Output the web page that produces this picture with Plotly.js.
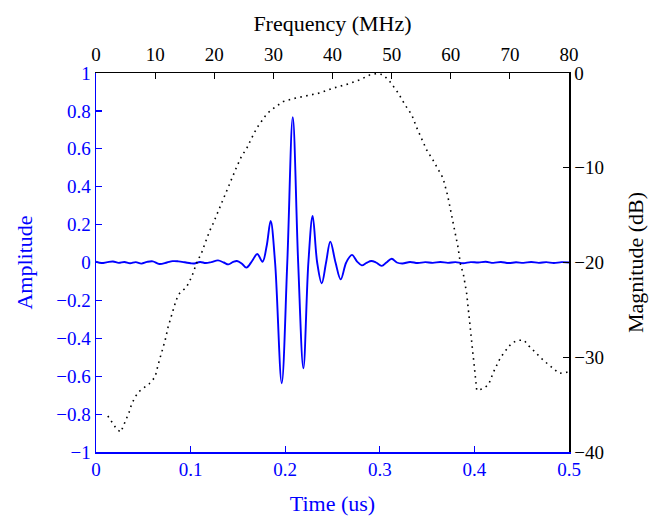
<!DOCTYPE html>
<html>
<head>
<meta charset="utf-8">
<script src="https://cdn.plot.ly/plotly-3.0.1.min.js"></script>
<style>html,body{margin:0;padding:0;background:#fff;}#chart{width:660px;height:527px;}</style>
</head>
<body>
<div id="chart"></div>
<script>
// Time-domain signal (us, amplitude)
const timeUs = [0, 0.006, 0.012, 0.018, 0.024, 0.030, 0.036, 0.042, 0.048, 0.054, 0.060, 0.067, 0.075, 0.081, 0.087, 0.094, 0.100, 0.104, 0.110, 0.116, 0.122, 0.129, 0.135, 0.140, 0.145, 0.149, 0.154, 0.159, 0.165, 0.1705, 0.176, 0.1805, 0.1846, 0.1893, 0.1963, 0.2022, 0.208, 0.2137, 0.2192, 0.2245, 0.229, 0.2338, 0.2386, 0.2432, 0.2477, 0.2532, 0.2587, 0.2645, 0.2706, 0.276, 0.281, 0.286, 0.291, 0.296, 0.302, 0.307, 0.3126, 0.318, 0.324, 0.332, 0.340, 0.348, 0.356, 0.364, 0.372, 0.380, 0.388, 0.396, 0.404, 0.412, 0.420, 0.428, 0.436, 0.444, 0.452, 0.460, 0.468, 0.476, 0.484, 0.492, 0.500];
const amplitude = [0.004, -0.003, 0.002, 0.005, -0.002, 0.003, -0.004, 0.002, -0.006, 0.003, 0.006, -0.008, 0.000, 0.007, 0.006, 0.001, -0.004, -0.005, 0.003, -0.003, 0.002, 0.011, 0.000, -0.010, 0.003, 0.008, -0.005, -0.027, 0.008, 0.045, 0.004, 0.09, 0.219, 0.0, -0.637, 0.0, 0.767, 0.0, -0.558, 0.0, 0.245, 0.0, -0.11, 0.0, 0.11, 0.0, -0.089, 0.0, 0.04, 0.005, -0.015, -0.002, 0.008, 0.0, -0.018, 0.0, 0.02, 0.0, -0.005, 0.003, -0.003, 0.002, -0.002, 0.003, -0.002, 0.002, -0.004, 0.002, 0.0, 0.004, -0.002, 0.003, -0.003, 0.001, -0.002, 0.003, -0.002, 0.002, -0.003, 0.002, 0.000];

// Magnitude spectrum (MHz, dB)
const freqMHz = [2.0, 2.8, 3.5, 4.2, 4.6, 5.0, 5.6, 6.0, 6.6, 7.3, 8.2, 9.0, 9.4, 10.0, 10.5, 11.1, 11.7, 12.2, 12.8, 13.4, 13.9, 14.7, 15.3, 16.2, 17.0, 17.9, 18.4, 19.2, 19.8, 20.4, 21.0, 21.5, 22.1, 22.5, 22.9, 23.8, 24.6, 25.5, 26.3, 27.2, 28.0, 28.9, 30.3, 31.7, 33.4, 35.6, 37.9, 40.1, 42.4, 44.7, 46.3, 47.5, 48.6, 49.7, 51.1, 52.3, 53.4, 54.2, 55.1, 55.9, 57.0, 57.9, 58.7, 59.5, 60.3, 61.2, 61.7, 62.1, 62.7, 63.3, 63.7, 64.1, 64.4, 65.5, 66.4, 67.2, 68.2, 68.9, 70.3, 71.4, 72.4, 73.2, 74.0, 74.9, 75.8, 76.6, 77.5, 78.3, 79.5, 80];
const magnitudeDb = [-36.2, -37.0, -37.6, -37.9, -37.3, -36.5, -35.8, -35.0, -34.2, -33.6, -33.2, -32.8, -32.5, -32.1, -30.8, -29.6, -28.2, -26.8, -25.4, -24.3, -23.4, -23.0, -22.6, -21.5, -20.1, -18.9, -18.0, -16.7, -15.9, -15.0, -14.1, -13.2, -12.5, -11.8, -11.1, -9.9, -8.8, -7.95, -6.9, -5.8, -5.1, -4.3, -3.6, -3.0, -2.7, -2.4, -2.1, -1.6, -1.2, -0.7, -0.2, -0.05, -0.2, -0.9, -2.1, -3.4, -4.4, -5.7, -6.9, -8.1, -9.2, -10.2, -11.1, -13.0, -15.5, -18.3, -20.4, -21.1, -23.3, -26.9, -29.2, -31.3, -33.5, -33.3, -32.9, -31.6, -30.3, -29.6, -28.5, -28.2, -28.2, -28.8, -29.3, -29.9, -30.4, -30.8, -31.3, -31.7, -31.6, -31.5];

const timeTicks = [0, 0.1, 0.2, 0.3, 0.4, 0.5];
const timeTickText = ['0', '0.1', '0.2', '0.3', '0.4', '0.5'];
const ampTicks = [-1, -0.8, -0.6, -0.4, -0.2, 0, 0.2, 0.4, 0.6, 0.8, 1];
const ampTickText = ['\u22121', '\u22120.8', '\u22120.6', '\u22120.4', '\u22120.2', '0', '0.2', '0.4', '0.6', '0.8', '1'];
const freqTicks = [0, 10, 20, 30, 40, 50, 60, 70, 80];
const dbTicks = [-40, -30, -20, -10, 0];
const dbTickText = ['\u221240', '\u221230', '\u221220', '\u221210', '0'];

const BLUE = 'rgb(0,0,255)';
const FONT = 'Liberation Serif, Times New Roman, serif';

const traces = [
  {
    x: timeUs, y: amplitude, type: 'scatter', mode: 'lines',
    line: {color: BLUE, width: 1.9, shape: 'spline', smoothing: 1},
    xaxis: 'x', yaxis: 'y', hoverinfo: 'skip'
  },
  {
    x: freqMHz, y: magnitudeDb, type: 'scatter', mode: 'lines',
    line: {color: '#000', width: 1.6, dash: '1.6px,4.4px'},
    xaxis: 'x2', yaxis: 'y2', hoverinfo: 'skip'
  }
];

const layout = {
  width: 660, height: 527,
  margin: {l: 96, r: 91, t: 73, b: 75, pad: 0},
  paper_bgcolor: '#fff', plot_bgcolor: '#fff',
  showlegend: false,
  font: {family: FONT, size: 19, color: '#000'},
  xaxis: {
    range: [0, 0.5], tickvals: timeTicks, ticktext: timeTickText,
    ticks: 'inside', ticklen: 6, tickwidth: 1.2, tickcolor: BLUE,
    showline: true, linecolor: BLUE, linewidth: 1.5, mirror: false,
    showgrid: false, zeroline: false,
    tickfont: {family: FONT, size: 19, color: BLUE},
    title: {text: 'Time (us)', font: {family: FONT, size: 22, color: BLUE}, standoff: 16}
  },
  yaxis: {
    range: [-1, 1], tickvals: ampTicks, ticktext: ampTickText,
    ticks: 'inside', ticklen: 6, tickwidth: 1.2, tickcolor: BLUE,
    showline: true, linecolor: BLUE, linewidth: 1.5, mirror: false,
    showgrid: false, zeroline: false,
    tickfont: {family: FONT, size: 19, color: BLUE},
    title: {text: 'Amplitude', font: {family: FONT, size: 22, color: BLUE}, standoff: 17}
  },
  xaxis2: {
    overlaying: 'x', side: 'top', anchor: 'y2',
    range: [0, 80], tickvals: freqTicks,
    ticks: 'inside', ticklen: 6, tickwidth: 1.2, tickcolor: '#000',
    ticklabelstandoff: 3,
    showline: true, linecolor: '#000', linewidth: 1.5, mirror: false,
    showgrid: false, zeroline: false,
    tickfont: {family: FONT, size: 19, color: '#000'},
    title: {text: 'Frequency (MHz)', font: {family: FONT, size: 22, color: '#000'}, standoff: 6}
  },
  yaxis2: {
    overlaying: 'y', side: 'right', anchor: 'x2',
    range: [-40, 0], tickvals: dbTicks, ticktext: dbTickText,
    ticks: 'inside', ticklen: 6, tickwidth: 1.2, tickcolor: '#000',
    showline: true, linecolor: '#000', linewidth: 1.5, mirror: false,
    showgrid: false, zeroline: false,
    tickfont: {family: FONT, size: 19, color: '#000'},
    title: {text: 'Magnitude (dB)', font: {family: FONT, size: 22, color: '#000'}, standoff: 24}
  }
};

Plotly.newPlot('chart', traces, layout, {staticPlot: true, displayModeBar: false});
</script>
</body>
</html>
